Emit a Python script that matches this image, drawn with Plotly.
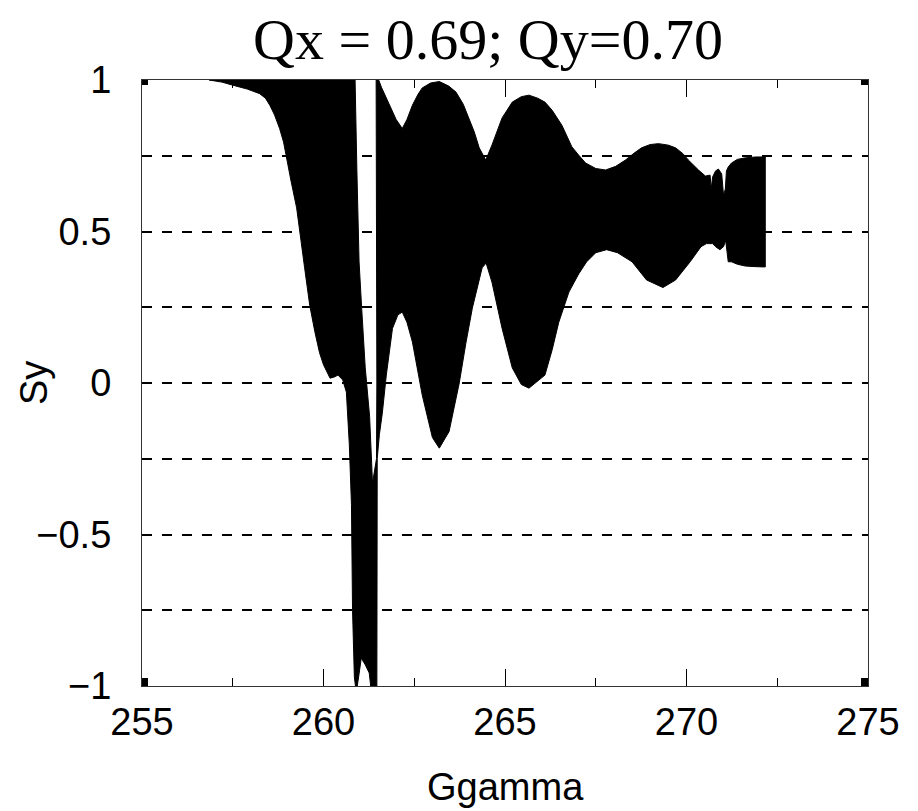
import plotly.graph_objects as go

# Upper envelope of Sy (left to right)
x_upper = [256.85, 257.3, 258.0, 258.5, 259.0, 259.5, 260.0, 260.5, 260.87, 260.92, 260.98, 261.05,
           261.15, 261.27, 261.35, 261.46, 261.47, 261.45, 261.52, 261.6, 261.8, 262.0, 262.17, 262.3,
           262.45, 262.6, 262.72, 262.95, 263.19, 263.45, 263.65, 263.85, 264.0, 264.15, 264.29, 264.47,
           264.64, 264.8, 264.92, 265.2, 265.45, 265.66, 265.9, 266.1, 266.3, 266.57, 266.84, 267.03,
           267.22, 267.5, 267.77, 268.05, 268.32, 268.55, 268.76, 269.0, 269.23, 269.5, 269.7, 269.9,
           270.05, 270.33, 270.52, 270.65, 270.68, 270.72, 270.8, 270.88, 270.97, 271.02, 271.07, 271.1,
           271.15, 271.24, 271.4, 271.62, 271.9, 272.17]
y_upper = [1.0, 1.0, 1.0, 1.0, 1.0, 1.0, 1.0, 1.0, 1.0, 0.70, 0.40, 0.25,
           0.05, -0.11, -0.33, -0.25, 0.0, 1.0, 1.0, 0.975, 0.92, 0.87, 0.84, 0.87,
           0.917, 0.952, 0.974, 0.99, 0.995, 0.98, 0.96, 0.92, 0.875, 0.83, 0.776, 0.736,
           0.785, 0.84, 0.875, 0.927, 0.945, 0.95, 0.94, 0.927, 0.90, 0.85, 0.78, 0.752,
           0.726, 0.708, 0.703, 0.715, 0.736, 0.758, 0.776, 0.787, 0.79, 0.785, 0.776, 0.757,
           0.736, 0.703, 0.683, 0.686, 0.64, 0.68, 0.70, 0.706, 0.69, 0.62, 0.64, 0.70,
           0.713, 0.726, 0.738, 0.743, 0.746, 0.746]

# Lower envelope of Sy (left to right)
x_lower = [256.85, 257.2, 257.5, 257.9, 258.24, 258.4, 258.52, 258.65, 258.79, 258.9, 258.98, 259.1,
           259.26, 259.34, 259.48, 259.62, 259.76, 259.89, 260.0, 260.18, 260.3, 260.4, 260.53,
           260.63, 260.71, 260.77, 260.8, 260.85, 260.88, 260.93, 260.98, 261.04, 261.15, 261.26,
           261.3, 261.47, 261.48, 261.54, 261.62, 261.73, 261.9, 262.05, 262.17, 262.3, 262.45,
           262.72, 263.0, 263.19, 263.46, 263.74, 263.92, 264.1, 264.37, 264.48, 264.64, 264.92,
           265.2, 265.45, 265.66, 266.1, 266.3, 266.48, 266.76, 267.03, 267.25, 267.5, 267.8, 268.1,
           268.5, 268.9, 269.35, 269.7, 270.1, 270.4, 270.55, 270.72, 270.8, 270.92, 271.02,
           271.08, 271.15, 271.24, 271.4, 271.62, 271.9, 272.17]
y_lower = [1.0, 0.993, 0.983, 0.97, 0.955, 0.94, 0.917, 0.885, 0.84, 0.795, 0.75, 0.67,
           0.578, 0.5, 0.38, 0.257, 0.17, 0.10, 0.06, 0.016, 0.02, 0.026, 0.01,
           -0.03, -0.2, -0.4, -0.75, -0.97, -1.0, -1.0, -0.96, -0.908, -0.93, -0.957,
           -1.0, -1.0, -0.25, -0.17, -0.10, 0.026, 0.18, 0.225, 0.234, 0.2, 0.135,
           -0.04, -0.18, -0.215, -0.16, 0.0, 0.13, 0.247, 0.38, 0.396, 0.333, 0.18,
           0.05, -0.005, -0.017, 0.026, 0.11, 0.20, 0.30, 0.36, 0.40, 0.43, 0.44, 0.43,
           0.40, 0.34, 0.315, 0.34, 0.40, 0.45, 0.46, 0.46, 0.45, 0.44, 0.45,
           0.47, 0.40, 0.40, 0.392, 0.386, 0.384, 0.383]

x_ticks = [255, 260, 265, 270, 275]
x_minor_ticks = [257.5, 262.5, 267.5, 272.5]
y_ticks = [-1, -0.5, 0, 0.5, 1]
y_tick_text = ["\u22121", "\u22120.5", "0", "0.5", "1"]
x_range = [255, 275]
y_range = [-1, 1]

title_text = "Qx = 0.69; Qy=0.70"
x_title = "Ggamma"
y_title = "Sy"

SANS = "Liberation Sans, Arial, sans-serif"
OFF = 8  # page body margin of the browser
W, H = 918 - OFF, 811 - OFF

fig = go.Figure()
fig.add_trace(go.Scatter(
    x=x_upper + x_lower[::-1],
    y=y_upper + y_lower[::-1],
    mode="lines", fill="toself", fillcolor="black",
    line=dict(color="black", width=1), hoverinfo="skip", showlegend=False,
))

fig.update_layout(
    width=W, height=H,
    margin=dict(l=142 - OFF, r=50, t=80 - OFF, b=H - (686 - OFF)),
    paper_bgcolor="white", plot_bgcolor="white",
    showlegend=False,
    title=dict(text=title_text, font=dict(family="Liberation Serif, Times New Roman, serif", size=58, color="black"),
               xref="container", x=(488 - OFF) / W, xanchor="center",
               yref="container", y=1 - (39 - OFF) / H, yanchor="middle"),
)

fig.update_xaxes(
    range=x_range, tickvals=x_ticks, ticktext=[str(v) for v in x_ticks],
    ticks="inside", ticklen=17, tickwidth=1, tickcolor="black",
    minor=dict(tickvals=x_minor_ticks, ticks="inside", ticklen=8, tickwidth=1, tickcolor="black", showgrid=False),
    showline=True, linecolor="#333", linewidth=1.2, mirror="ticks",
    showgrid=False, zeroline=False,
    tickfont=dict(family=SANS, size=38, color="black"),
    ticklabelstandoff=2,
)
fig.update_yaxes(
    range=y_range, tickvals=y_ticks, ticktext=y_tick_text,
    ticks="", showline=True, linecolor="#333", linewidth=1.2, mirror=True,
    showgrid=True, gridcolor="black", gridwidth=1.5, griddash="10px,10px",
    minor=dict(dtick=0.25, tick0=0, showgrid=True, gridcolor="black", gridwidth=1.5, griddash="10px,10px"),
    zeroline=False,
    tickfont=dict(family=SANS, size=38, color="black"),
    ticklabelstandoff=22,
)

# axis titles
fig.add_annotation(text=x_title, xref="paper", yref="paper", x=0.5, y=-101 / 606,
                   xanchor="center", yanchor="middle", showarrow=False,
                   font=dict(family=SANS, size=38, color="black"))
fig.add_annotation(text=y_title, xref="paper", yref="paper", x=(34 - 142) / 726, y=0.5,
                   xanchor="center", yanchor="middle", textangle=-90, showarrow=False,
                   font=dict(family=SANS, size=38, color="black"))

# corner markers
for cx in x_range:
    for cy in y_range:
        fig.add_shape(type="rect", xref="x", yref="y", xsizemode="pixel", ysizemode="pixel",
                      xanchor=cx, yanchor=cy, x0=-7, x1=6, y0=-5, y1=8,
                      fillcolor="black", line=dict(width=0), layer="above")

fig.write_html("out.html")
